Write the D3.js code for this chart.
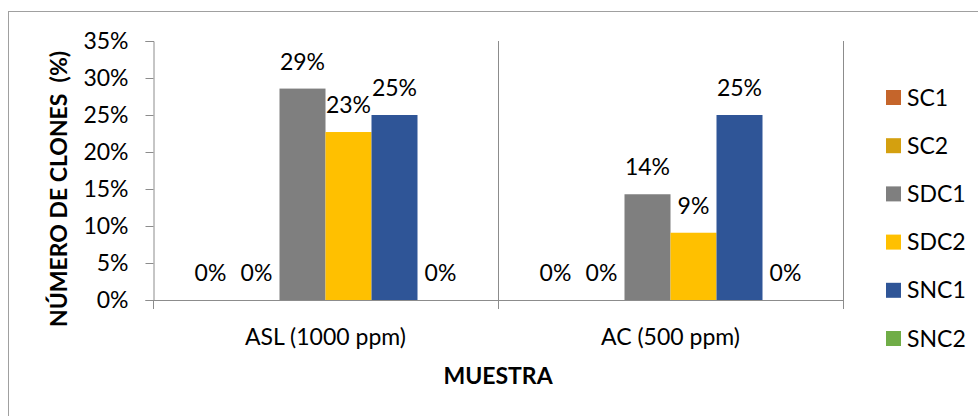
<!DOCTYPE html>
<html>
<head>
<meta charset="utf-8">
<script src="https://cdn.jsdelivr.net/npm/d3@7/dist/d3.min.js"></script>
<style>
  html, body { margin: 0; padding: 0; background: #fff; }
  svg text { font-family: Lato, "Open Sans", sans-serif; fill: #000; }
</style>
</head>
<body>
<svg id="chart" width="978" height="416"></svg>
<script>
// Categories (samples) and series (clone types)
const categories = ["ASL (1000 ppm)", "AC (500 ppm)"];
const seriesNames = ["SC1", "SC2", "SDC1", "SDC2", "SNC1", "SNC2"];
// Share of clones per series, one value per category
const sc1 = [0, 0];
const sc2 = [0, 0];
const sdc1 = [0.2857, 0.1429];
const sdc2 = [0.227, 0.0909];
const snc1 = [0.25, 0.25];
const snc2 = [0, 0];
const yTicks = [0, 0.05, 0.10, 0.15, 0.20, 0.25, 0.30, 0.35];

const seriesValues = [sc1, sc2, sdc1, sdc2, snc1, snc2];
const colors = ["#C5652B", "#D4A00F", "#7F7F7F", "#FFC000", "#2F5597", "#70AD47"];

const svg = d3.select("#chart");
const plot = { left: 153, right: 843, top: 41, bottom: 300 };
const axisColor = "#8C8C8C";
const fontSize = 23;

// outer chart frame
svg.append("rect")
  .attr("x", 8.5).attr("y", 11.5)
  .attr("width", 1000).attr("height", 500)
  .attr("fill", "none").attr("stroke", "#A0A0A0").attr("stroke-width", 1);

const x0 = d3.scaleBand().domain(categories).range([plot.left, plot.right]).paddingInner(0).paddingOuter(0);
const x1 = d3.scaleBand().domain(seriesNames).range([0, x0.bandwidth()]).paddingInner(0).paddingOuter(0.75);
const y = d3.scaleLinear().domain([0, 0.35]).range([plot.bottom, plot.top]);
const color = d3.scaleOrdinal().domain(seriesNames).range(colors);
const pct = d3.format(".0%");

// category separators / right edge
const edges = [plot.left + x0.bandwidth(), plot.right];
svg.append("g").selectAll("line").data(edges).join("line")
  .attr("x1", d => d + 0.5).attr("x2", d => d + 0.5)
  .attr("y1", plot.top).attr("y2", plot.bottom + 9)
  .attr("stroke", axisColor).attr("stroke-width", 1);

// y axis
const yAxis = d3.axisLeft(y).tickValues(yTicks).tickFormat(pct).tickSize(8).tickPadding(17);
const gy = svg.append("g").attr("transform", `translate(${plot.left + 0.5},0)`).call(yAxis);
gy.select(".domain").attr("stroke", axisColor);
gy.selectAll(".tick line").attr("stroke", axisColor);
gy.selectAll(".tick text").attr("font-size", fontSize).attr("font-family", "Lato");
svg.append("line").attr("x1", plot.left + 0.5).attr("x2", plot.left + 0.5)
  .attr("y1", plot.bottom).attr("y2", plot.bottom + 9).attr("stroke", axisColor);

// bars
const groups = svg.append("g").selectAll("g").data(categories).join("g")
  .attr("transform", d => `translate(${x0(d)},0)`);

const cells = (c, ci) => seriesNames.map((s, si) => ({ s, v: seriesValues[si][ci] }));

groups.each(function (c, ci) {
  const g = d3.select(this);
  const data = cells(c, ci);
  g.selectAll("rect").data(data).join("rect")
    .attr("x", d => x1(d.s)).attr("width", x1.bandwidth())
    .attr("y", d => y(d.v)).attr("height", d => y(0) - y(d.v))
    .attr("fill", d => color(d.s));
  g.selectAll("text").data(data).join("text")
    .attr("x", d => x1(d.s) + x1.bandwidth() / 2)
    .attr("y", d => y(d.v) - 19)
    .attr("text-anchor", "middle")
    .attr("font-size", fontSize)
    .text(d => pct(d.v));
});

// x axis line
svg.append("line").attr("x1", plot.left).attr("x2", plot.right + 1)
  .attr("y1", plot.bottom + 0.5).attr("y2", plot.bottom + 0.5)
  .attr("stroke", axisColor);

// category labels
svg.append("g").selectAll("text").data(categories).join("text")
  .attr("x", d => x0(d) + x0.bandwidth() / 2)
  .attr("y", 345)
  .attr("text-anchor", "middle")
  .attr("font-size", fontSize)
  .text(d => d);

// axis titles
svg.append("text").attr("x", 498).attr("y", 384)
  .attr("text-anchor", "middle").attr("font-size", fontSize).attr("font-weight", "bold")
  .text("MUESTRA");
svg.append("text")
  .attr("transform", "translate(67,189) rotate(-90)")
  .attr("text-anchor", "middle").attr("font-size", fontSize).attr("font-weight", "bold")
  .attr("xml:space", "preserve").style("white-space", "pre")
  .text("NÚMERO DE CLONES  (%)");

// legend
const legend = svg.append("g").selectAll("g").data(seriesNames).join("g")
  .attr("transform", (d, i) => `translate(886,${90 + i * 48.2})`);
legend.append("rect").attr("width", 15).attr("height", 15).attr("fill", d => color(d));
legend.append("text").attr("x", 21).attr("y", 15.5).attr("font-size", fontSize).text(d => d);
</script>
</body>
</html>
